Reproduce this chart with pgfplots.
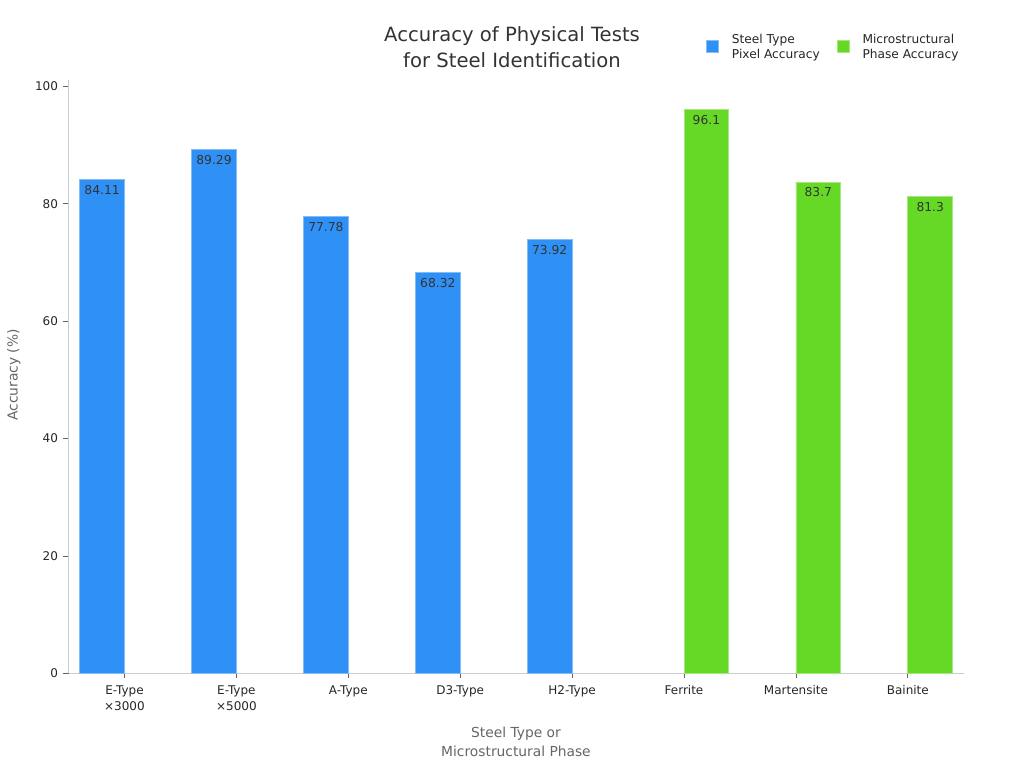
\documentclass[border=0pt]{standalone}
\usepackage{pgfplots}
\pgfplotsset{compat=1.18}
\usepackage{fontspec}
\setmainfont{DejaVu Sans}
\definecolor{barblue}{HTML}{2F91F6}
\definecolor{bargreen}{HTML}{66D926}
\definecolor{axisgray}{HTML}{CCCCCC}
\definecolor{ticktext}{HTML}{262626}
\definecolor{titletext}{HTML}{333333}
\definecolor{labeltext}{HTML}{666666}
\begin{document}
\begin{tikzpicture}[x=1pt,y=1pt]
\path[use as bounding box] (0,0) rectangle (1024,768);
\begin{axis}[
  at={(68.5pt,94.7pt)}, anchor=south west,
  scale only axis, width=895.3pt, height=593.3pt,
  xmin=-0.5, xmax=7.5, ymin=0, ymax=101.1,
  ybar=0pt, bar width=0.4,
  legend image code/.code={\fill[#1] (0pt,-6pt) rectangle (12pt,6pt);},
  axis x line*=bottom, axis y line*=left,
  axis line style={axisgray, line width=1pt},
  tick align=outside, major tick length=5pt,
  tick style={color=black!60, line width=0.8pt},
  xtick={0,...,7},
  xticklabels={E-Type\\×3000, E-Type\\×5000, A-Type, D3-Type, H2-Type, Ferrite, Martensite, Bainite},
  ytick={0,20,...,100},
  /pgf/number format/assume math mode=true,
  tick label style={font=\fontsize{12}{16}\selectfont, text=ticktext},
  xticklabel style={align=center, anchor=north, yshift=-4pt},
  yticklabel style={xshift=-2pt},
  title={Accuracy of Physical Tests\\for Steel Identification},
  title style={at={(axis description cs:0.4954,1.0455)}, anchor=center, align=center,
    font=\fontsize{19.6}{26}\selectfont, text=titletext},
  xlabel={Steel Type or\\Microstructural Phase},
  xlabel style={at={(axis description cs:0.4998,-0.115)}, anchor=center, align=center,
    font=\fontsize{13.8}{19}\selectfont, text=labeltext},
  ylabel={Accuracy (\%)},
  ylabel style={at={(axis description cs:-0.061,0.503)}, anchor=center, rotate=0,
    font=\fontsize{13.8}{19}\selectfont, text=labeltext},
  nodes near coords,
  point meta=explicit symbolic,
  every node near coord/.append style={anchor=north, yshift=-2pt,
    font=\fontsize{12.3}{14}\selectfont, text=titletext},
  legend columns=2,
  legend style={draw=none, fill=none, at={(axis description cs:0.7086,1.056)}, anchor=west,
    font=\fontsize{12.2}{15}\selectfont, text=ticktext, cells={align=left},
    /tikz/every odd column/.append style={column sep=11pt},
    /tikz/every even column/.append style={column sep=15pt}},
]
\addplot[fill=barblue, draw=barblue!60!white, line width=0.8pt] coordinates {
  (0,84.11) [84.11]
  (1,89.29) [89.29]
  (2,77.78) [77.78]
  (3,68.32) [68.32]
  (4,73.92) [73.92]
};
\addlegendentry{Steel Type\\Pixel Accuracy}
\addplot[fill=bargreen, draw=bargreen!60!white, line width=0.8pt] coordinates {
  (5,96.1) [96.1]
  (6,83.7) [83.7]
  (7,81.3) [81.3]
};
\addlegendentry{Microstructural\\Phase Accuracy}
\end{axis}
\end{tikzpicture}
\end{document}
